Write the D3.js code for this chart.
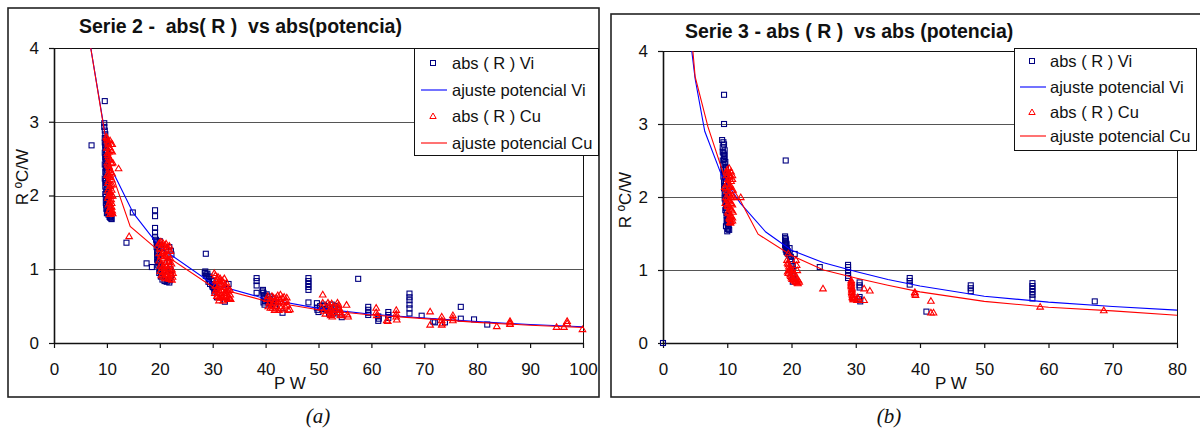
<!DOCTYPE html>
<html><head><meta charset="utf-8">
<script src="https://cdn.jsdelivr.net/npm/d3@7"></script>
<style>body{margin:0;background:#fff}svg{display:block}</style>
</head><body><svg id="c" width="1200" height="428"></svg>
<script>
// ---------- DATA ----------
const legendLabels = ["abs ( R ) Vi", "ajuste potencial Vi", "abs ( R ) Cu", "ajuste potencial Cu"];
const titleA = "Serie 2 -  abs( R )  vs abs(potencia)";
const titleB = "Serie 3 - abs ( R )  vs abs (potencia)";
const xTicksA = [0,10,20,30,40,50,60,70,80,90,100];
const xTicksB = [0,10,20,30,40,50,60,70,80];
const yTicks = [0,1,2,3,4];

// Serie 2 - points [P, R]
const s2Vi = [[7.1,2.68],[9.6,3.28],[9.5,2.98],[9.5,2.93],[9.6,2.88],[9.7,2.83],[9.6,2.78],
[9.8,2.75],[9.9,2.7],[9.7,2.65],[10.0,2.6],[9.8,2.55],[9.9,2.5],[10.1,2.45],[9.8,2.4],[10.0,2.35],[9.9,2.3],[10.2,2.25],[9.8,2.2],[10.0,2.15],[10.1,2.1],[9.9,2.05],[10.3,2.0],[10.0,1.95],[10.2,1.9],[10.4,1.85],[10.1,1.8],[10.5,1.76],[10.7,1.72],[10.9,1.68],[10.6,1.7],[9.7,2.5],[9.7,2.2],[9.8,1.9],
[14.9,1.77],[13.7,1.36],[17.5,1.08],[18.5,1.03],[19.1,1.80],[19.1,1.72],[19.1,1.56],[19.1,1.5],[19.1,1.44],
[19.3,1.4],[19.5,1.35],[19.4,1.3],[19.6,1.25],[19.5,1.2],[19.7,1.15],[19.6,1.1],[20.0,1.38],[20.2,1.3],[20.4,1.22],[20.1,1.05],[20.6,0.98],[20.3,0.92],[21.0,0.9],[21.5,0.85],[21.8,0.82],[22.0,0.88],[22.2,1.2],[21.7,1.1],
[28.7,1.21],[28.6,0.97],[28.8,0.93],[29.0,0.9],[29.3,0.87],[29.8,0.85],[30.1,0.8],[30.0,0.76],[30.4,0.73],[31.5,0.78],[33.0,0.8],[32.3,0.56],[30.8,0.62],
[38.3,0.88],[38.3,0.84],[38.3,0.78],[38.3,0.68],[39.5,0.72],[39.6,0.68],[39.7,0.64],[39.8,0.6],[39.6,0.55],[40.4,0.58],[40.8,0.63],[41.0,0.52],[41.5,0.6],[42.0,0.55],[43.2,0.41],
[48.1,0.88],[48.1,0.84],[48.1,0.8],[48.1,0.76],[48.1,0.72],[48.1,0.55],[49.7,0.54],[49.7,0.48],[49.8,0.45],[50.0,0.42],[51.2,0.5],[51.5,0.45],[52.0,0.4],[52.5,0.52],[53.0,0.48],[53.5,0.42],[54.0,0.38],[54.4,0.35],[57.5,0.87],
[59.4,0.49],[59.4,0.45],[59.4,0.41],[59.4,0.38],[61.3,0.36],[61.4,0.33],[61.3,0.3],[63.2,0.42],[63.2,0.38],[63.2,0.34],
[67.2,0.67],[67.2,0.62],[67.2,0.58],[67.2,0.52],[67.2,0.47],[67.2,0.4],[69.5,0.37],[71.7,0.29],[72.0,0.28],[73.9,0.28],[76.9,0.49],[76.9,0.33],[79.4,0.32],[81.9,0.25]];
const s2ViDense = [[9.6,2.72],[9.7,2.68],[9.8,2.62],[9.6,2.58],[9.7,2.52],[9.9,2.47],[9.6,2.42],[9.8,2.37],[9.7,2.32],[9.9,2.27],[9.6,2.23],[9.8,2.17],[9.7,2.12],[9.9,2.08],[9.7,2.02],[9.8,1.98],[10.0,1.92],[9.9,1.87],[10.1,1.83],[10.2,1.78],[10.3,1.74],[10.5,1.71],[10.8,1.69],[10.6,1.73],[10.4,1.77],[10.0,1.76],[9.9,1.82],
[19.4,1.38],[19.6,1.33],[19.8,1.28],[19.5,1.23],[19.8,1.18],[19.5,1.13],[19.9,1.08],[19.7,1.05],[20.0,1.0],[19.9,0.95],[20.2,0.9],[20.5,0.86],[20.9,0.84],[21.3,0.83],[21.9,0.85],[22.1,0.92],[22.0,1.0],[21.8,1.3],[22.1,1.25],
[28.5,0.95],[28.7,0.91],[29.0,0.94],[29.2,0.83],[29.5,0.8],[29.4,0.9],[29.9,0.78],[30.2,0.75],[30.0,0.84],[30.3,0.7],
[39.4,0.7],[39.6,0.62],[39.9,0.57],[40.2,0.66],[40.6,0.54],[39.8,0.52],[41.2,0.57],[41.8,0.5],
[50.3,0.5],[50.8,0.46],[51.0,0.52],[51.8,0.48],[52.2,0.44],[52.8,0.4],[53.2,0.5],[53.8,0.45]];
const s2Cu = [[9.9,2.8],[10.1,2.75],[10.3,2.7],[10.0,2.65],[10.4,2.6],[10.2,2.55],[10.5,2.5],[10.1,2.45],[10.4,2.4],[10.6,2.35],[10.2,2.3],[10.5,2.25],[10.3,2.2],[10.7,2.15],[10.4,2.1],[10.6,2.05],[10.3,2.0],[10.8,1.95],[10.5,1.9],[10.7,1.85],[10.4,1.8],[10.9,1.78],[10.6,1.75],[11.0,1.8],[11.1,2.0],[11.0,2.3],[11.0,2.6],[10.8,2.7],
[12.2,2.37],[14.2,1.45],
[19.8,1.35],[20.2,1.38],[20.6,1.36],[21.0,1.33],[21.4,1.3],[21.8,1.32],[20.0,1.28],[20.4,1.22],[20.8,1.25],[21.2,1.18],[21.6,1.2],[22.0,1.15],[19.9,1.12],[20.3,1.08],[20.7,1.05],[21.1,1.1],[21.5,1.02],[21.9,1.05],[22.3,1.0],[20.1,0.98],[20.5,0.94],[20.9,0.96],[21.3,0.92],[21.7,0.9],[22.1,0.93],[22.4,0.9],[21.0,0.88],
[30.3,0.95],[30.6,0.85],[31.0,0.9],[31.4,0.88],[31.8,0.85],[32.2,0.88],[32.6,0.82],[30.5,0.78],[30.9,0.75],[31.3,0.8],[31.7,0.72],[32.1,0.76],[32.5,0.7],[32.9,0.74],[33.3,0.66],[30.4,0.68],[30.8,0.64],[31.2,0.62],[31.6,0.66],[32.0,0.62],[32.4,0.64],[32.8,0.6],[33.2,0.61],[31.0,0.7],
[40.3,0.6],[40.7,0.55],[41.1,0.52],[41.5,0.62],[41.9,0.58],[42.3,0.65],[42.7,0.6],[43.1,0.55],[43.5,0.63],[43.9,0.58],[40.5,0.5],[41.3,0.48],[42.1,0.5],[42.9,0.48],[43.7,0.5],[44.3,0.45],[44.6,0.46],[41.7,0.45],
[50.8,0.66],[50.8,0.55],[50.6,0.48],[51.0,0.44],[51.3,0.4],[52.0,0.52],[52.3,0.48],[52.5,0.45],[52.4,0.4],[52.6,0.36],[52.8,0.5],[53.8,0.52],[53.9,0.47],[54.0,0.42],[54.2,0.38],[55.3,0.52],[55.6,0.36],[55.5,0.39],
[60.9,0.48],[60.9,0.42],[61.0,0.38],[62.9,0.31],[63.1,0.3],[64.7,0.45],[64.7,0.4],[64.7,0.36],[64.8,0.32],[71.1,0.43],[71.1,0.25],[73.3,0.36],[73.3,0.31],[73.4,0.27],[73.3,0.25],[75.4,0.38],[75.4,0.34],[75.4,0.31],[83.7,0.23],[86.2,0.3],[86.2,0.28],[86.2,0.26],[95.0,0.22],[96.4,0.22],[97.0,0.3],[97.0,0.27],[99.9,0.19]];
const s2CuDense = [[10.0,2.78],[10.2,2.72],[10.5,2.66],[10.7,2.62],[10.1,2.58],[10.3,2.52],[10.7,2.48],[10.9,2.44],[10.2,2.42],[10.5,2.37],[10.8,2.32],[10.1,2.28],[10.4,2.27],[10.9,2.22],[10.2,2.17],[10.6,2.13],[10.9,2.08],[10.2,2.07],[10.5,2.02],[10.8,2.0],[10.2,1.97],[10.6,1.93],[10.9,1.9],[10.3,1.88],[10.6,1.84],[10.9,1.85],[10.5,1.8],[10.8,1.77],[11.1,1.76],[11.0,2.15],[11.1,2.45],[10.6,2.75],[11.0,2.7],
[20.0,1.36],[20.4,1.33],[20.8,1.3],[21.2,1.35],[21.6,1.28],[22.0,1.25],[19.9,1.22],[20.2,1.18],[20.6,1.15],[21.0,1.2],[21.4,1.12],[21.8,1.1],[22.2,1.08],[20.1,1.05],[20.5,1.02],[20.9,1.0],[21.3,1.05],[21.7,0.98],[22.1,0.97],[22.5,0.95],[20.3,0.92],[20.7,0.9],[21.1,0.94],[21.5,0.88],[21.9,0.87],[22.3,0.86],
[30.5,0.92],[30.9,0.87],[31.3,0.84],[31.7,0.8],[32.1,0.82],[32.5,0.78],[32.9,0.7],[33.3,0.72],[30.6,0.72],[31.0,0.66],[31.4,0.7],[31.8,0.62],[32.2,0.68],[32.6,0.66],[33.0,0.63],[33.4,0.6],[31.2,0.58],[32.0,0.58],
[40.4,0.64],[40.8,0.6],[41.2,0.64],[41.6,0.55],[42.0,0.62],[42.4,0.56],[42.8,0.66],[43.2,0.62],[43.6,0.56],[44.0,0.62],[40.9,0.48],[41.9,0.47],[42.5,0.45],[43.3,0.46],[44.1,0.52],
[51.8,0.55],[52.1,0.44],[52.3,0.38],[52.7,0.42],[53.6,0.55],[53.7,0.49],[54.1,0.45],[54.3,0.4],[52.5,0.54]];
// Serie 2 - power fits (polylines)
const s2FitViP = [6.6,9.6,10.8,15,20,30,40,50,60,70,80,90,100];
const s2FitViR = [4.15,2.86,2.37,1.76,1.3,0.8,0.6,0.47,0.39,0.34,0.29,0.25,0.22];
const s2FitCuP = [6.6,9.6,10.8,14.4,20,30,40,50,60,70,80,90,100];
const s2FitCuR = [4.15,2.84,2.33,1.58,1.24,0.76,0.57,0.45,0.38,0.33,0.28,0.24,0.21];

// Serie 3 - points
const s3Vi = [[0,0],[9.5,3.4],[9.5,3.0],
[9.4,2.75],[9.5,2.72],[9.3,2.68],[9.6,2.64],[9.4,2.6],[9.6,2.56],[9.5,2.52],[9.7,2.48],[9.4,2.44],[9.8,2.4],[9.5,2.35],[9.6,2.3],[9.8,2.25],[9.5,2.2],[9.7,2.15],[9.9,2.1],[9.6,2.05],[9.8,2.0],[9.7,1.95],[9.9,1.9],[9.8,1.85],[10.0,1.8],[9.9,1.75],[10.1,1.7],[10.0,1.65],[10.2,1.6],[10.1,1.56],[10.0,1.53],
[19.1,2.5],
[19.0,1.46],[19.1,1.42],[19.0,1.38],[19.2,1.35],[19.1,1.32],[19.3,1.28],[19.2,1.25],[19.5,1.22],[19.7,1.3],[19.9,1.18],[20.0,1.12],[20.2,1.05],[20.1,0.98],[20.3,0.92],[20.2,0.84],[20.5,1.22],
[24.4,1.04],[28.8,1.07],[28.8,1.04],[28.8,1.0],[28.8,0.96],[28.8,0.92],[28.8,0.89],[30.6,0.83],[30.6,0.79],[30.6,0.76],[30.6,0.63],[30.5,0.6],[30.7,0.57],[38.4,0.89],[38.4,0.85],[38.4,0.8],[41.0,0.43],[47.9,0.79],[47.9,0.75],[47.9,0.71],[57.5,0.82],[57.5,0.78],[57.5,0.74],[57.5,0.7],[57.5,0.66],[57.5,0.61],[67.2,0.57]];
const s3ViDense = [[9.2,2.78],[9.3,2.62],[9.5,2.58],[9.3,2.5],[9.6,2.46],[9.4,2.38],[9.7,2.32],[9.4,2.28],[9.6,2.22],[9.8,2.18],[9.5,2.12],[9.7,2.07],[9.9,2.02],[9.6,1.98],[9.8,1.92],[10.0,1.88],[9.7,1.82],[9.9,1.78],[10.1,1.74],[10.0,1.68],[10.2,1.63],[10.1,1.58],[10.3,1.55],[9.8,1.6],[9.9,1.68],
[19.0,1.44],[19.1,1.4],[19.2,1.36],[19.0,1.34],[19.2,1.3],[19.1,1.28],[19.3,1.24],[19.4,1.26],[19.6,1.2],[19.8,1.15],[20.0,1.08],[20.1,1.02],[20.2,0.95],[20.3,0.88]];
const s3Cu = [[10.0,2.38],[10.3,2.4],[10.6,2.35],[9.9,2.3],[10.4,2.28],[10.8,2.25],[10.1,2.2],[10.5,2.16],[10.9,2.1],[9.8,2.12],[10.2,2.05],[10.6,2.0],[10.0,1.98],[10.4,1.94],[10.8,1.9],[9.7,1.92],[10.1,1.88],[10.5,1.84],[10.9,1.8],[10.2,1.78],[10.6,1.74],[10.4,1.7],[10.8,1.68],[10.5,1.65],[9.6,2.14],[11.0,2.0],
[12.1,2.0],[19.5,1.23],
[19.3,1.14],[19.5,1.08],[19.7,1.02],[19.4,0.98],[19.8,0.94],[20.0,0.9],[20.3,0.88],[20.6,0.85],[20.9,0.83],[21.2,0.84],[20.5,0.95],[20.7,1.14],[20.8,1.07],[20.9,1.0],[19.6,1.0],[20.1,0.96],
[24.9,0.75],[29.3,0.86],[29.3,0.82],[29.3,0.78],[29.4,0.74],[29.4,0.7],[29.5,0.66],[29.5,0.63],[29.6,0.6],[30.4,0.61],[30.2,0.59],[31.3,0.75],[32.2,0.72],[31.3,0.59],[39.2,0.7],[39.2,0.68],[39.3,0.66],[41.7,0.58],[41.7,0.42],[42.1,0.42],[58.7,0.5],[68.6,0.45]];
const s3CuDense = [[9.9,2.35],[10.2,2.33],[10.5,2.3],[10.8,2.3],[10.1,2.25],[10.6,2.22],[9.9,2.18],[10.3,2.14],[10.7,2.1],[10.0,2.08],[10.4,2.04],[10.8,2.02],[9.8,2.0],[10.2,1.96],[10.6,1.92],[10.0,1.9],[10.4,1.86],[10.7,1.82],[10.1,1.8],[10.5,1.76],[10.8,1.72],[10.3,1.72],[10.6,1.67],[10.4,1.66],
[19.4,1.1],[19.6,1.05],[19.8,1.0],[19.5,0.96],[19.9,0.92],[20.1,0.88],[20.4,0.86],[20.7,0.84],[21.0,0.82],[20.6,0.9],[20.9,0.88],[21.1,0.86],[20.3,0.98],[20.0,1.02],
[29.3,0.84],[29.3,0.8],[29.4,0.76],[29.4,0.72],[29.4,0.68],[29.5,0.64],[29.6,0.62],[29.7,0.6],[30.3,0.63]];
const s3FitViP = [4.2,5,6.5,9.1,12,16,20,25,30,35,40,50,60,70,80];
const s3FitViR = [4.2,3.62,2.9,2.3,1.92,1.52,1.27,1.1,0.98,0.87,0.78,0.64,0.56,0.5,0.45];
const s3FitCuP = [4.45,5,7,9.4,12,14.8,20,25,30,35,40,50,60,70,80];
const s3FitCuR = [4.2,3.65,2.96,2.32,1.96,1.49,1.2,1.0,0.89,0.79,0.7,0.57,0.49,0.44,0.38];

// ---------- DRAW ----------
const svg = d3.select("#c");
const FONT = "'Liberation Sans', Arial, sans-serif";
const NAVY = "#000080", BLUE = "#0000ff", RED = "#ff0000";

function chart(o) {
  const g = svg.append("g");
  g.append("rect").attr("x", o.frame[0]).attr("y", o.frame[1])
    .attr("width", o.frame[2]-o.frame[0]).attr("height", o.frame[3]-o.frame[1])
    .attr("fill", "#fff").attr("stroke", "#222").attr("stroke-width", 1.6);
  const x = d3.scaleLinear().domain([0, o.xmax]).range([o.left, o.right]);
  const y = d3.scaleLinear().domain([0, 4]).range([o.bottom, o.top]);
  g.append("g").selectAll("line").data([1,2,3]).join("line")
    .attr("x1", o.left).attr("x2", o.right)
    .attr("y1", d => Math.round(y(d))+0.5).attr("y2", d => Math.round(y(d))+0.5)
    .attr("stroke", "#555").attr("stroke-width", 1);
  g.append("path").attr("d", `M${o.left},${o.top+0.5}H${o.right+0.5}V${o.bottom}`)
    .attr("fill", "none").attr("stroke", "#111").attr("stroke-width", 1);
  const xa = g.append("g").attr("transform", `translate(0,${o.bottom})`)
    .call(d3.axisBottom(x).tickValues(o.xTicks).tickSize(5).tickSizeOuter(0).tickPadding(15).tickFormat(d3.format("d")));
  const ya = g.append("g").attr("transform", `translate(${o.left},0)`)
    .call(d3.axisLeft(y).tickValues(yTicks).tickSize(5).tickSizeOuter(0).tickPadding(10).tickFormat(d3.format("d")));
  [xa, ya].forEach(a => {
    a.select(".domain").attr("stroke", "#111").attr("stroke-width", 1.6);
    a.selectAll(".tick line").attr("stroke", "#111").attr("stroke-width", 1.2);
    a.selectAll("text").attr("font-family", FONT).attr("font-size", 17).attr("fill", "#111");
  });
  const cid = "clip" + o.id;
  svg.append("clipPath").attr("id", cid).append("rect")
    .attr("x", o.left).attr("y", o.top).attr("width", o.right-o.left).attr("height", o.bottom-o.top);
  const line = d3.line().x(d => x(d[0])).y(d => y(d[1]));
  const sq = (sel, data) => sel.selectAll("rect.m").data(data).join("rect").attr("class","m")
    .attr("x", d => x(d[0])-2.5).attr("y", d => y(d[1])-2.5).attr("width", 5).attr("height", 5)
    .attr("fill", "none").attr("stroke", NAVY).attr("stroke-width", 1.1);
  const tri = (sel, data) => sel.selectAll("path.m").data(data).join("path").attr("class","m")
    .attr("d", d => `M${x(d[0])},${y(d[1])-3}L${x(d[0])+3.3},${y(d[1])+2.6}L${x(d[0])-3.3},${y(d[1])+2.6}Z`)
    .attr("fill", "none").attr("stroke", RED).attr("stroke-width", 1.1);
  sq(g.append("g"), o.vi);
  g.append("path").datum(d3.zip(o.fitViP, o.fitViR)).attr("d", line)
    .attr("clip-path", `url(#${cid})`).attr("fill", "none").attr("stroke", BLUE).attr("stroke-width", 1.1);
  tri(g.append("g"), o.cu);
  g.append("path").datum(d3.zip(o.fitCuP, o.fitCuR)).attr("d", line)
    .attr("clip-path", `url(#${cid})`).attr("fill", "none").attr("stroke", RED).attr("stroke-width", 1.1);
  g.append("text").attr("x", o.titleX).attr("y", o.titleY).text(o.title)
    .attr("font-family", FONT).attr("font-weight", "bold").attr("font-size", 19.5).attr("fill", "#111")
    .style("white-space", "pre");
  g.append("text").attr("x", o.pwX).attr("y", o.pwY).text("P W")
    .attr("font-family", FONT).attr("font-size", 17).attr("fill", "#111");
  g.append("text").attr("transform", `translate(${o.ytX},${o.ytY}) rotate(-90)`).attr("text-anchor", "middle")
    .text("R ºC/W").attr("font-family", FONT).attr("font-size", 17).attr("fill", "#111");
  const L = o.legend;
  const lg = g.append("g");
  lg.append("rect").attr("x", L[0]+0.5).attr("y", L[1]+0.5).attr("width", L[2]-L[0]).attr("height", L[3]-L[1])
    .attr("fill", "#fff").attr("stroke", "#111").attr("stroke-width", 1);
  const rows = o.rows;
  legendLabels.forEach((t, i) => {
    lg.append("text").attr("x", o.lgText).attr("y", rows[i]+5.5).text(t)
      .attr("font-family", FONT).attr("font-size", 16.5).attr("fill", "#111").style("white-space", "pre");
  });
  const cx = o.lgSym;
  lg.append("rect").attr("x", cx-2.5).attr("y", rows[0]-2.5).attr("width", 5).attr("height", 5)
    .attr("fill", "none").attr("stroke", NAVY);
  lg.append("line").attr("x1", cx-12).attr("x2", cx+14).attr("y1", rows[1]).attr("y2", rows[1])
    .attr("stroke", BLUE).attr("stroke-width", 1.1);
  lg.append("path").attr("d", `M${cx},${rows[2]-3}L${cx+3.2},${rows[2]+2.5}L${cx-3.2},${rows[2]+2.5}Z`)
    .attr("fill", "none").attr("stroke", RED);
  lg.append("line").attr("x1", cx-12).attr("x2", cx+14).attr("y1", rows[3]).attr("y2", rows[3])
    .attr("stroke", RED).attr("stroke-width", 1.1);
  svg.append("text").attr("x", o.capX).attr("y", 423).attr("text-anchor", "middle").text(o.cap)
    .attr("font-family", "'Liberation Serif', 'Times New Roman', serif").attr("font-style", "italic")
    .attr("font-size", 21).attr("fill", "#111");
}

chart({id:"a", frame:[8,8,599,397], left:54, right:583, top:48, bottom:343, xmax:100, xTicks:xTicksA,
  vi:s2Vi.concat(s2ViDense), cu:s2Cu.concat(s2CuDense), fitViP:s2FitViP, fitViR:s2FitViR, fitCuP:s2FitCuP, fitCuR:s2FitCuR,
  title:titleA, titleX:79, titleY:33, pwX:274, pwY:389, ytX:28, ytY:177,
  legend:[414,48,598,155], rows:[63,90,116,143], lgSym:433, lgText:452, cap:"(a)", capX:318});
chart({id:"b", frame:[611,14,1202,397], left:663, right:1177, top:51, bottom:343, xmax:80, xTicks:xTicksB,
  vi:s3Vi.concat(s3ViDense), cu:s3Cu.concat(s3CuDense), fitViP:s3FitViP, fitViR:s3FitViR, fitCuP:s3FitCuP, fitCuR:s3FitCuR,
  title:titleB, titleX:685, titleY:38, pwX:935, pwY:389, ytX:631, ytY:200,
  legend:[1014,48,1196,150], rows:[61,87,112,136], lgSym:1032, lgText:1050, cap:"(b)", capX:889});
</script></body></html>
